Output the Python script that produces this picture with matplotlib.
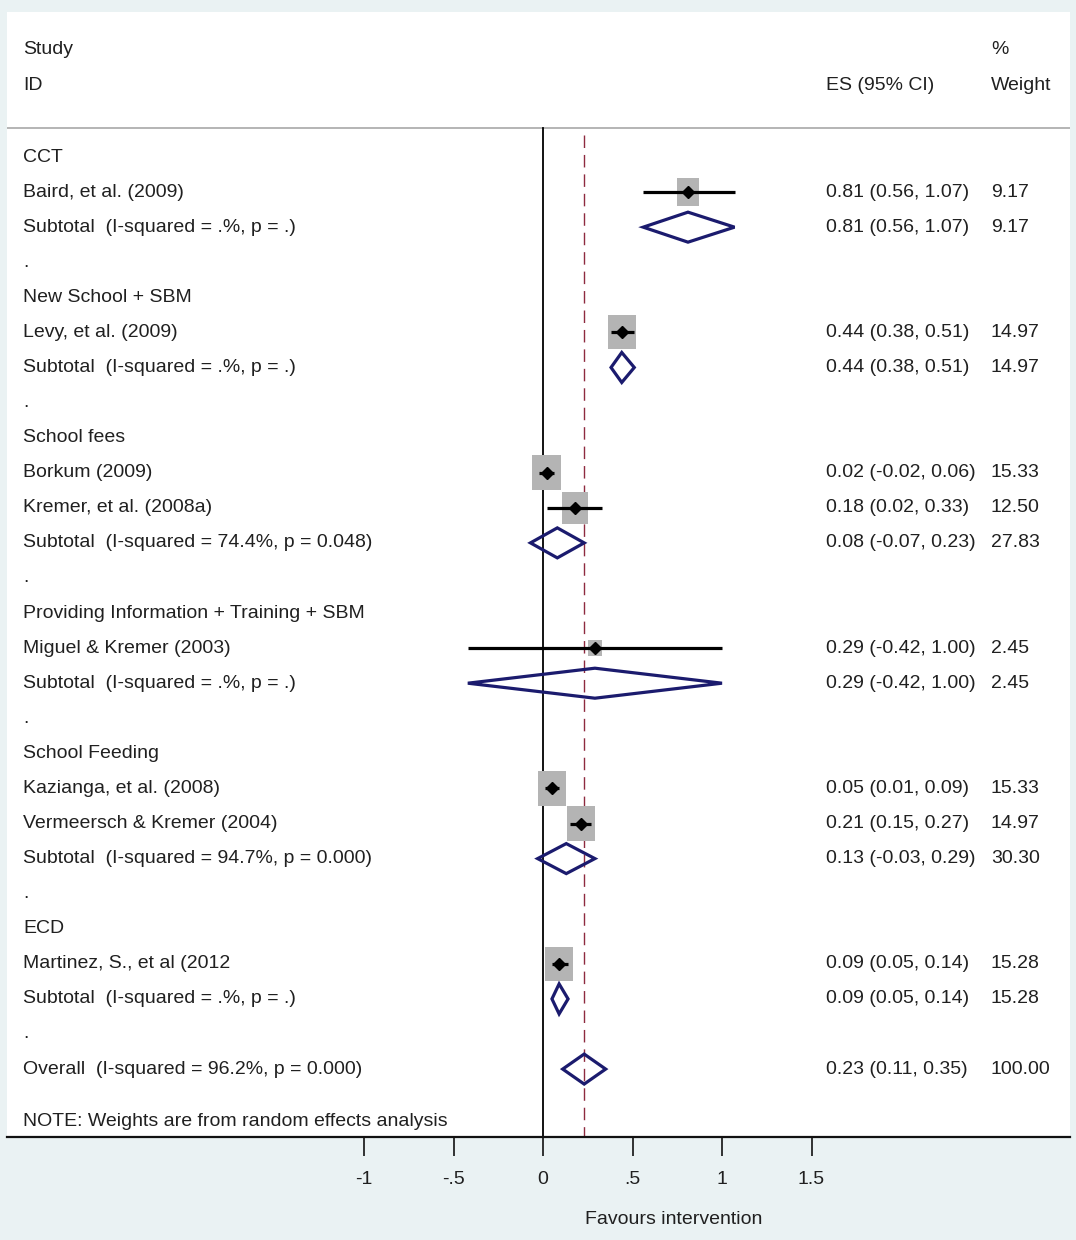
import matplotlib
matplotlib.use("Agg")
import matplotlib.pyplot as plt
from matplotlib.patches import Rectangle, Polygon
from matplotlib import font_manager

# ---------------- data ----------------
labels = ["CCT", "Baird, et al. (2009)", "Subtotal  (I-squared = .%, p = .)", ".",
          "New School + SBM", "Levy, et al. (2009)", "Subtotal  (I-squared = .%, p = .)", ".",
          "School fees", "Borkum (2009)", "Kremer, et al. (2008a)",
          "Subtotal  (I-squared = 74.4%, p = 0.048)", ".",
          "Providing Information + Training + SBM", "Miguel & Kremer (2003)",
          "Subtotal  (I-squared = .%, p = .)", ".",
          "School Feeding", "Kazianga, et al. (2008)", "Vermeersch & Kremer (2004)",
          "Subtotal  (I-squared = 94.7%, p = 0.000)", ".",
          "ECD", "Martinez, S., et al (2012", "Subtotal  (I-squared = .%, p = .)", ".",
          "Overall  (I-squared = 96.2%, p = 0.000)"]
# row type: h=header, s=study, d=subtotal/overall diamond, b=blank
row_type = ["h", "s", "d", "b",
            "h", "s", "d", "b",
            "h", "s", "s", "d", "b",
            "h", "s", "d", "b",
            "h", "s", "s", "d", "b",
            "h", "s", "d", "b",
            "d"]
es = [None, 0.81, 0.81, None,
      None, 0.44, 0.44, None,
      None, 0.02, 0.18, 0.08, None,
      None, 0.29, 0.29, None,
      None, 0.05, 0.21, 0.13, None,
      None, 0.09, 0.09, None,
      0.23]
lo = [None, 0.56, 0.56, None,
      None, 0.38, 0.38, None,
      None, -0.02, 0.02, -0.07, None,
      None, -0.42, -0.42, None,
      None, 0.01, 0.15, -0.03, None,
      None, 0.05, 0.05, None,
      0.11]
hi = [None, 1.07, 1.07, None,
      None, 0.51, 0.51, None,
      None, 0.06, 0.33, 0.23, None,
      None, 1.00, 1.00, None,
      None, 0.09, 0.27, 0.29, None,
      None, 0.14, 0.14, None,
      0.35]
weight = [None, 9.17, 9.17, None,
          None, 14.97, 14.97, None,
          None, 15.33, 12.50, 27.83, None,
          None, 2.45, 2.45, None,
          None, 15.33, 14.97, 30.30, None,
          None, 15.28, 15.28, None,
          100.00]
overall_es = 0.23
xticks = [-1, -0.5, 0, 0.5, 1, 1.5]
xticklabels = ["-1", "-.5", "0", ".5", "1", "1.5"]
note = "NOTE: Weights are from random effects analysis"
xlabel = "Favours intervention"

# ---------------- style ----------------
avail = {f.name for f in font_manager.fontManager.ttflist}
if "Liberation Sans Narrow" in avail:
    FONT = ["Liberation Sans Narrow", "DejaVu Sans"]
    FS = 16
else:
    FONT = ["Liberation Sans", "DejaVu Sans"]
    FS = 14
plt.rcParams["font.family"] = FONT

BG = "#EAF2F3"
NAVY = "#1B1B6E"
BOXC = "#B4B4B4"
TXT = "#202020"

W, H = 1076, 1240
fig = plt.figure(figsize=(W / 100, H / 100), dpi=100, facecolor=BG)

px_left, px_right, px_top, px_bot = 7, 1070, 12, 1137
x0_px, unit_px = 543, 179.0
row0_px, row_px = 157, 35.08

ax = fig.add_axes([px_left / W, 1 - px_bot / H, (px_right - px_left) / W, (px_bot - px_top) / H])
ax.set_facecolor("white")
ax.set_xlim((px_left - x0_px) / unit_px, (px_right - x0_px) / unit_px)
ax.set_ylim((px_bot - row0_px) / row_px, (px_top - row0_px) / row_px)

def px2row(p):
    return (p - row0_px) / row_px

def px2x(p):
    return (p - x0_px) / unit_px

for s in ["top", "left", "right"]:
    ax.spines[s].set_visible(False)
ax.spines["bottom"].set_linewidth(1.6)
ax.spines["bottom"].set_color("#111111")
ax.set_yticks([])
ax.set_xticks(xticks)
ax.set_xticklabels(xticklabels, fontsize=FS, color=TXT)
ax.tick_params(axis="x", length=13.5, width=1.2, pad=11, color="#111111")

# header separator
ax.axhline(px2row(128), color="#A8A8A8", lw=1.2)
# zero line
ax.plot([0, 0], [px2row(128), px2row(px_bot)], color="black", lw=1.3, zorder=2)
# overall dashed line
ax.plot([overall_es, overall_es], [px2row(135), px2row(px_bot)], color="#8E2A3F",
        lw=1.0, dashes=(9, 5), zorder=2)

# headers
x_lab = px2x(23)
x_es = px2x(826)
x_w = px2x(991)
ax.text(x_lab, px2row(50), "Study", fontsize=FS, va="center", ha="left", color=TXT)
ax.text(x_lab, px2row(86), "ID", fontsize=FS, va="center", ha="left", color=TXT)
ax.text(x_es, px2row(86), "ES (95% CI)", fontsize=FS, va="center", ha="left", color=TXT)
ax.text(x_w, px2row(50), "%", fontsize=FS, va="center", ha="left", color=TXT)
ax.text(x_w, px2row(86), "Weight", fontsize=FS, va="center", ha="left", color=TXT)

half_h = 15 / row_px
for i, (lab, t) in enumerate(zip(labels, row_type)):
    y = i
    ax.text(x_lab, y, lab, fontsize=FS, va="center", ha="left", color=TXT)
    if t in ("s", "d"):
        ax.text(x_es, y, f"{es[i]:.2f} ({lo[i]:.2f}, {hi[i]:.2f})", fontsize=FS,
                va="center", ha="left", color=TXT)
        ax.text(x_w, y, f"{weight[i]:.2f}", fontsize=FS, va="center", ha="left", color=TXT)
    if t == "s":
        side_px = 4 + 6.2 * weight[i] ** 0.5
        wdat = side_px / unit_px
        hdat = 1.22 * side_px / row_px
        ax.add_patch(Rectangle((es[i] - wdat / 2, y - hdat / 2), wdat, hdat,
                               facecolor=BOXC, edgecolor="none", zorder=3))
        ax.plot([lo[i], hi[i]], [y, y], color="black", lw=2.3, zorder=4,
                solid_capstyle="butt")
        ax.plot([es[i]], [y], marker="D", color="black", markersize=6.5, zorder=5)
    elif t == "d":
        ax.add_patch(Polygon([(lo[i], y), (es[i], y - half_h), (hi[i], y), (es[i], y + half_h)],
                             closed=True, facecolor="none", edgecolor=NAVY, lw=2.3,
                             joinstyle="miter", zorder=4))

ax.text(x_lab, px2row(1121), note, fontsize=FS, va="center", ha="left", color=TXT)
fig.text(674 / W, 1 - 1219 / H, xlabel, fontsize=FS, ha="center", va="center", color=TXT)

fig.savefig("out.png", dpi=100, facecolor=BG)
